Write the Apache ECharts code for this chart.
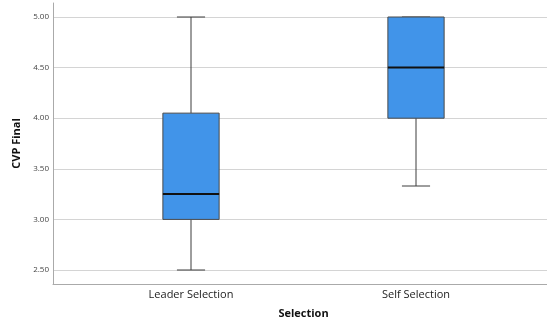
<!DOCTYPE html>
<html>
<head>
<meta charset="utf-8">
<script src="https://cdn.jsdelivr.net/npm/echarts@6/dist/echarts.min.js"></script>
<style>
  html, body { margin: 0; padding: 0; background: #fff; }
  #main { width: 547px; height: 320px; }
</style>
</head>
<body>
<div id="main"></div>
<script>
// 分类和箱线图数值 (min, Q1, median, Q3, max)
var categories = ['Leader Selection', 'Self Selection'];
var mins    = [2.50, 3.33];
var q1s     = [3.00, 4.00];
var medians = [3.25, 4.50];
var q3s     = [4.05, 5.00];
var maxs    = [5.00, 5.00];
var yTicks  = [2.5, 3.0, 3.5, 4.0, 4.5, 5.0];

var boxData = categories.map(function (c, i) {
    return [i, mins[i], q1s[i], medians[i], q3s[i], maxs[i]];
});

var myChart = echarts.init(document.getElementById('main'));

function renderBox(params, api) {
    var i = api.value(0);
    var band = api.size([1, 0])[0];
    var bw = band * 0.25;
    var cw = bw / 2;
    var pMin = api.coord([i, api.value(1)]);
    var pQ1 = api.coord([i, api.value(2)]);
    var pMed = api.coord([i, api.value(3)]);
    var pQ3 = api.coord([i, api.value(4)]);
    var pMax = api.coord([i, api.value(5)]);
    var x = pMed[0];
    var lineStyle = { stroke: '#3c3c3c', lineWidth: 1 };
    return {
        type: 'group',
        children: [
            // 上须
            { type: 'line', shape: { x1: x, y1: pQ3[1], x2: x, y2: pMax[1] }, style: lineStyle },
            { type: 'line', shape: { x1: x - cw / 2, y1: pMax[1], x2: x + cw / 2, y2: pMax[1] }, style: lineStyle },
            // 下须
            { type: 'line', shape: { x1: x, y1: pQ1[1], x2: x, y2: pMin[1] }, style: lineStyle },
            { type: 'line', shape: { x1: x - cw / 2, y1: pMin[1], x2: x + cw / 2, y2: pMin[1] }, style: lineStyle },
            // 箱体
            { type: 'rect', shape: { x: x - bw / 2, y: pQ3[1], width: bw, height: pQ1[1] - pQ3[1] },
              style: { fill: '#4194e9', stroke: '#4a4a4a', lineWidth: 1 } },
            // 中位数
            { type: 'line', shape: { x1: x - bw / 2, y1: pMed[1], x2: x + bw / 2, y2: pMed[1] },
              style: { stroke: '#111', lineWidth: 2 } }
        ]
    };
}

myChart.setOption({
    animation: false,
    grid: [
        // 坐标轴线 (L 形)
        { left: 53, right: 0, top: 3, bottom: 36, outerBoundsMode: 'none' },
        // 网格线与 y 轴标签
        { left: 53, right: 0, top: 17, bottom: 50, outerBoundsMode: 'none' },
        // 箱线图
        { left: 78.5, right: 18.5, top: 17, bottom: 50, outerBoundsMode: 'none' }
    ],
    xAxis: [
        {
            gridIndex: 0, type: 'category', data: categories,
            axisLine: { show: true, lineStyle: { color: '#aaa', width: 1 } },
            axisTick: { show: false }, axisLabel: { show: false }, splitLine: { show: false }
        },
        { gridIndex: 1, type: 'value', show: false },
        {
            gridIndex: 2, type: 'category', data: categories,
            axisLine: { show: false }, axisTick: { show: false },
            axisLabel: { margin: 19, fontSize: 11, color: '#222', fontFamily: 'Open Sans' },
            name: 'Selection', nameLocation: 'middle', nameGap: 38,
            nameTextStyle: { fontSize: 11, fontWeight: 'bold', color: '#111', fontFamily: 'Open Sans' }
        }
    ],
    yAxis: [
        {
            gridIndex: 0, type: 'value', min: 0, max: 1,
            axisLine: { show: true, lineStyle: { color: '#aaa', width: 1 } },
            axisTick: { show: false }, axisLabel: { show: false }, splitLine: { show: false }
        },
        {
            gridIndex: 1, type: 'value', min: 2.5, max: 5, interval: 0.5,
            axisLine: { show: false }, axisTick: { show: false },
            axisLabel: {
                fontSize: 8, color: '#444', margin: 4, fontFamily: 'Open Sans',
                formatter: function (v) { return v.toFixed(2); }
            },
            splitLine: { show: true, lineStyle: { color: '#d4d4d4', width: 1 } },
            name: 'CVP Final', nameLocation: 'middle', nameGap: 24,
            nameTextStyle: { fontSize: 11, fontWeight: 'bold', color: '#111', fontFamily: 'Open Sans' }
        },
        { gridIndex: 2, type: 'value', min: 2.5, max: 5, show: false }
    ],
    series: [
        {
            type: 'custom',
            xAxisIndex: 2, yAxisIndex: 2,
            renderItem: renderBox,
            encode: { x: 0, y: [1, 2, 3, 4, 5] },
            data: boxData
        }
    ]
});
</script>
</body>
</html>
